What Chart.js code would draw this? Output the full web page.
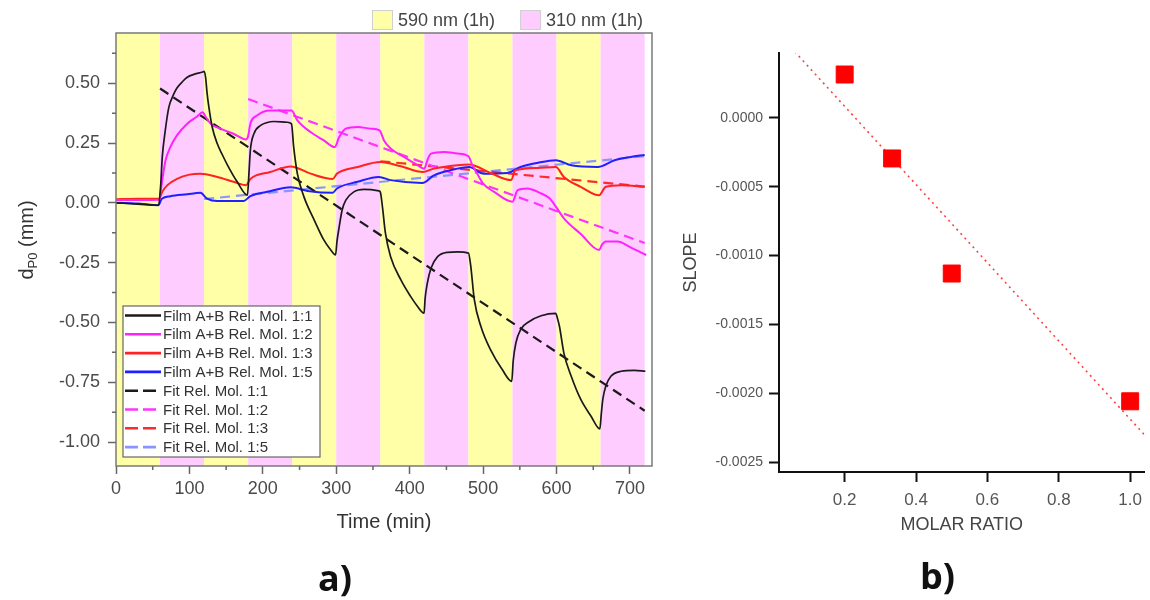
<!DOCTYPE html>
<html>
<head>
<meta charset="utf-8">
<script src="https://cdn.jsdelivr.net/npm/chart.js@4.4.1/dist/chart.umd.min.js"></script>
<style>
  html, body { margin: 0; padding: 0; background: #fff; }
  body { width: 1150px; height: 600px; position: relative; overflow: hidden; }
  #timeChart { position: absolute; left: 0; top: 0; }
  #slopeChart { position: absolute; left: 665px; top: 0; }
  .panel { position: absolute; font-family: 'Open Sans', sans-serif; font-weight: 700;
           font-size: 36px; line-height: 36px; color: #111; }
</style>
</head>
<body>
<canvas id="timeChart" width="665" height="600"></canvas>
<canvas id="slopeChart" width="485" height="600"></canvas>
<div class="panel" style="left:318px; top:560px">a)</div>
<div class="panel" style="left:920px; top:558px">b)</div>
<script>
// ---- panel a) data : time (min) vs d_P0 (mm) ----
const periodLength = 60;
const lightPeriods = ['590 nm (1h)', '310 nm (1h)', '590 nm (1h)', '310 nm (1h)',
  '590 nm (1h)', '310 nm (1h)', '590 nm (1h)', '310 nm (1h)',
  '590 nm (1h)', '310 nm (1h)', '590 nm (1h)', '310 nm (1h)'];
const lightColors = { '590 nm (1h)': '#ffffa8', '310 nm (1h)': '#ffccff' };

const timeTicks = [0, 100, 200, 300, 400, 500, 600, 700];
const timeMinorTicks = [50, 150, 250, 350, 450, 550, 650];
const dpTicks = [-1.0, -0.75, -0.5, -0.25, 0, 0.25, 0.5];
const dpMinorTicks = [-0.875, -0.625, -0.375, -0.125, 0.125, 0.375, 0.625];

// [time, d_P0]
const film11 = [[0, 0.0], [30, -0.005], [58, -0.01], [61, 0.08], [63, 0.19], [67, 0.3], [72, 0.40],
  [78, 0.45], [83, 0.48], [90, 0.505], [97, 0.525], [107, 0.538], [118, 0.547], [120, 0.55],
  [122, 0.525], [124, 0.46], [126.5, 0.40], [131, 0.317], [138, 0.247], [145, 0.2], [152, 0.157],
  [165, 0.088], [179, 0.032], [181, 0.12], [183, 0.22], [188, 0.29], [197, 0.324], [205, 0.335],
  [215, 0.34], [233, 0.337], [239, 0.33], [242, 0.233], [247, 0.122], [256, 0.025], [270, -0.072],
  [283, -0.155], [292, -0.195], [299, -0.218], [301, -0.16], [304, -0.10], [308, -0.03], [313, 0.011],
  [324, 0.046], [338, 0.056], [358, 0.05], [360, 0.045], [363, -0.02], [367, -0.128], [374, -0.225],
  [388, -0.322], [401, -0.39], [410, -0.43], [419.6, -0.461], [421, -0.40], [424, -0.336], [429, -0.273],
  [438, -0.225], [451, -0.207], [465, -0.205], [480, -0.21], [483, -0.26], [488, -0.405], [497, -0.517],
  [510, -0.614], [526, -0.697], [539, -0.746], [541, -0.66], [544.6, -0.586], [551, -0.53], [563, -0.496],
  [579, -0.472], [599, -0.462], [601, -0.48], [604, -0.517], [610, -0.628], [620, -0.725], [633, -0.822],
  [647, -0.892], [659, -0.945], [661, -0.88], [663, -0.822], [667, -0.767], [674, -0.725], [688, -0.704],
  [706, -0.70], [721, -0.704]];
const film12 = [[0, 0.012], [30, 0.012], [59, 0.013], [61, 0.05], [63, 0.095], [67.5, 0.178], [74, 0.233],
  [83, 0.282], [97, 0.331], [110, 0.36], [118, 0.379], [122, 0.36], [129, 0.331], [142, 0.31], [160, 0.289],
  [177, 0.265], [180, 0.28], [183, 0.331], [192, 0.365], [210, 0.386], [233, 0.386], [239, 0.386],
  [247, 0.345], [265, 0.296], [283, 0.261], [298, 0.233], [304, 0.275], [313, 0.31], [329, 0.317],
  [347, 0.31], [359, 0.303], [365, 0.261], [374, 0.227], [392, 0.192], [411, 0.157], [420, 0.143],
  [424, 0.178], [429, 0.206], [447, 0.213], [465, 0.206], [480, 0.195], [485, 0.16], [492, 0.122],
  [500, 0.08], [515, 0.046], [540, 0.005], [547, 0.053], [560, 0.06], [579, 0.039], [590, 0.02],
  [600, -0.02], [610, -0.065], [633, -0.13], [658, -0.197], [662, -0.175], [667, -0.162], [683, -0.162],
  [700, -0.185], [722, -0.218]];
const film13 = [[0, 0.015], [30, 0.017], [59, 0.018], [61, 0.03], [63, 0.046], [70, 0.074], [83, 0.10],
  [100, 0.118], [115, 0.122], [138, 0.108], [160, 0.088], [177, 0.074], [183, 0.10], [210, 0.129],
  [238, 0.152], [265, 0.122], [295, 0.10], [301, 0.122], [329, 0.15], [360, 0.171], [388, 0.153],
  [418, 0.129], [433, 0.143], [465, 0.157], [481, 0.16], [510, 0.125], [538, 0.095], [544, 0.136],
  [574, 0.146], [599, 0.15], [610, 0.108], [633, 0.067], [658, 0.032], [667, 0.067], [688, 0.074],
  [720, 0.067]];
const film15 = [[0, 0.0], [30, -0.003], [58, -0.01], [61, 0.01], [63, 0.018], [74, 0.028], [97, 0.036],
  [115, 0.042], [124, 0.018], [138, 0.008], [174, 0.008], [183, 0.028], [206, 0.046], [238, 0.065],
  [261, 0.05], [295, 0.042], [301, 0.06], [329, 0.088], [358, 0.108], [374, 0.095], [417, 0.083],
  [433, 0.115], [465, 0.143], [481, 0.15], [501, 0.122], [533, 0.125], [551, 0.15], [574, 0.167],
  [599, 0.178], [620, 0.157], [656, 0.15], [679, 0.178], [701, 0.192], [720, 0.2]];
const fit11 = [[60, 0.478], [720, -0.869]];
const fit12 = [[180, 0.434], [720, -0.168]];
const fit13 = [[360, 0.174], [720, 0.068]];
const fit15 = [[120, 0.016], [720, 0.195]];

// ---- panel b) data : molar ratio vs slope ----
const molarRatio = [0.2, 0.333, 0.5, 1.0];
const slopeValues = [0.000314, -0.000295, -0.00113, -0.002057];
const slopeFitX = [0.06, 1.04];
const slopeFitY = [0.00048, -0.0023];
const ratioTicks = [0.2, 0.4, 0.6, 0.8, 1.0];
const slopeTicks = [-0.0025, -0.002, -0.0015, -0.001, -0.0005, 0];

Chart.defaults.font.family = "'Liberation Sans', Arial, sans-serif";

const toXY = pts => pts.map(([x, y]) => ({ x, y }));
const solid = (label, pts, color, width) => ({
  label, data: toXY(pts), borderColor: color, backgroundColor: color, borderWidth: width,
  pointRadius: 0, cubicInterpolationMode: 'monotone', fill: false
});
const dashed = (label, pts, color) => ({
  label, data: toXY(pts), borderColor: color, backgroundColor: color, borderWidth: 2.2,
  borderDash: [10, 6], pointRadius: 0, tension: 0, fill: false
});

const bandPlugin = {
  id: 'bands',
  beforeDatasetsDraw(chart) {
    const { ctx, chartArea, scales: { x } } = chart;
    ctx.save();
    lightPeriods.forEach((name, i) => {
      const x0 = x.getPixelForValue(i * periodLength);
      const x1 = x.getPixelForValue((i + 1) * periodLength);
      ctx.fillStyle = lightColors[name];
      ctx.fillRect(x0, chartArea.top, x1 - x0, chartArea.bottom - chartArea.top);
    });
    ctx.restore();
  }
};

const framePlugin = {
  id: 'frame',
  afterDatasetsDraw(chart) {
    const { ctx, chartArea: a, scales: { x, y } } = chart;
    ctx.save();
    ctx.strokeStyle = '#7a7a7a';
    ctx.lineWidth = 1.5;
    ctx.strokeRect(a.left, a.top, a.right - a.left, a.bottom - a.top);
    // minor ticks
    ctx.strokeStyle = '#666';
    ctx.beginPath();
    timeMinorTicks.forEach(v => {
      const px = x.getPixelForValue(v);
      ctx.moveTo(px, a.bottom); ctx.lineTo(px, a.bottom + 4);
    });
    dpMinorTicks.forEach(v => {
      const py = y.getPixelForValue(v);
      ctx.moveTo(a.left - 4, py); ctx.lineTo(a.left, py);
    });
    ctx.stroke();
    ctx.restore();
  }
};

const legendsPlugin = {
  id: 'legends',
  afterDraw(chart) {
    const { ctx, chartArea: a } = chart;
    ctx.save();
    // light legend above the plot
    ctx.font = "18px 'Liberation Sans', Arial, sans-serif";
    ctx.textBaseline = 'middle';
    let cx = 372;
    [...new Set(lightPeriods)].forEach(name => {
      ctx.fillStyle = lightColors[name];
      ctx.fillRect(cx, 10, 21, 20);
      ctx.strokeStyle = '#d0d0d0';
      ctx.lineWidth = 1;
      ctx.strokeRect(cx + 0.5, 10.5, 20, 19);
      ctx.fillStyle = '#444';
      ctx.fillText(name, cx + 26, 21);
      cx += 26 + ctx.measureText(name).width + 25;
    });
    // series legend inside the plot
    const ds = chart.data.datasets;
    const bx = a.left + 7, bw = 197, bh = 151, by = a.bottom - 9 - bh;
    ctx.fillStyle = '#fff';
    ctx.fillRect(bx, by, bw, bh);
    ctx.strokeStyle = '#666';
    ctx.lineWidth = 1.2;
    ctx.strokeRect(bx, by, bw, bh);
    ctx.font = "15px 'Liberation Sans', Arial, sans-serif";
    ds.forEach((d, i) => {
      const ry = by + 9.5 + i * 18.8;
      ctx.beginPath();
      ctx.strokeStyle = d.borderColor;
      ctx.lineWidth = d.borderDash ? 2.6 : 2.6;
      ctx.setLineDash(d.borderDash ? [13, 5] : []);
      ctx.moveTo(bx + 2, ry); ctx.lineTo(bx + 38, ry);
      ctx.stroke();
      ctx.setLineDash([]);
      ctx.fillStyle = '#333';
      ctx.fillText(d.label, bx + 40, ry + 1);
    });
    // y axis title with subscript
    ctx.translate(26, 240);
    ctx.rotate(-Math.PI / 2);
    ctx.fillStyle = '#333';
    const big = "20px 'Liberation Sans', Arial, sans-serif";
    const small = "13px 'Liberation Sans', Arial, sans-serif";
    ctx.font = big; const wd = ctx.measureText('d').width; const wr = ctx.measureText(' (mm)').width;
    ctx.font = small; const ws = ctx.measureText('P0').width;
    let tx = -(wd + ws + wr) / 2;
    ctx.textBaseline = 'alphabetic';
    ctx.font = big; ctx.fillText('d', tx, 7); tx += wd;
    ctx.font = small; ctx.fillText('P0', tx, 11); tx += ws;
    ctx.font = big; ctx.fillText(' (mm)', tx, 7);
    ctx.restore();
  }
};

new Chart(document.getElementById('timeChart'), {
  type: 'line',
  data: {
    datasets: [
      solid('Film A+B Rel. Mol. 1:1', film11, '#1a1a1a', 1.7),
      solid('Film A+B Rel. Mol. 1:2', film12, '#ff22ff', 2),
      solid('Film A+B Rel. Mol. 1:3', film13, '#ff2222', 2),
      solid('Film A+B Rel. Mol. 1:5', film15, '#1f1fff', 2),
      dashed('Fit Rel. Mol. 1:1', fit11, '#1a1a1a'),
      dashed('Fit Rel. Mol. 1:2', fit12, '#ff33ff'),
      dashed('Fit Rel. Mol. 1:3', fit13, '#ff2a2a'),
      dashed('Fit Rel. Mol. 1:5', fit15, '#8a94ff')
    ]
  },
  options: {
    responsive: false,
    animation: false,
    layout: { autoPadding: false, padding: { top: 33, right: 13, bottom: 0, left: 0 } },
    plugins: { legend: { display: false }, tooltip: { enabled: false } },
    scales: {
      x: {
        type: 'linear', min: 0, max: 730,
        afterBuildTicks: s => { s.ticks = timeTicks.map(v => ({ value: v })); },
        afterFit: s => { s.height = 134; },
        border: { display: false },
        grid: { drawOnChartArea: false, tickLength: 8, tickWidth: 1.5, tickColor: '#666' },
        ticks: { padding: 4, color: '#4a4a4a', font: { size: 18 }, maxRotation: 0 },
        title: { display: true, text: 'Time (min)', color: '#333', font: { size: 20 },
                 padding: { top: 0, bottom: 66 } }
      },
      y: {
        type: 'linear', min: -1.1, max: 0.71,
        afterBuildTicks: s => { s.ticks = dpTicks.map(v => ({ value: v })); },
        afterFit: s => { s.width = 116; },
        border: { display: false },
        grid: { drawOnChartArea: false, tickLength: 8, tickWidth: 1.5, tickColor: '#666' },
        ticks: { padding: 8, color: '#4a4a4a', font: { size: 18 }, callback: v => v.toFixed(2) }
      }
    }
  },
  plugins: [bandPlugin, framePlugin, legendsPlugin]
});

new Chart(document.getElementById('slopeChart'), {
  type: 'scatter',
  data: {
    datasets: [
      { label: 'slope', data: molarRatio.map((r, i) => ({ x: r, y: slopeValues[i] })),
        pointStyle: 'rect', pointRadius: 12, backgroundColor: '#ff0000', borderColor: '#ff0000' },
      { label: 'fit', data: slopeFitX.map((r, i) => ({ x: r, y: slopeFitY[i] })), showLine: true,
        borderColor: '#ff4040', borderWidth: 1.6, borderDash: [2, 4], pointRadius: 0, fill: false }
    ]
  },
  options: {
    responsive: false,
    animation: false,
    layout: { autoPadding: false, padding: { top: 53, right: 0, bottom: 0, left: 0 } },
    plugins: { legend: { display: false }, tooltip: { enabled: false } },
    scales: {
      x: {
        type: 'linear', min: 0.016, max: 1.04,
        afterBuildTicks: s => { s.ticks = ratioTicks.map(v => ({ value: v })); },
        afterFit: s => { s.height = 128; },
        border: { display: true, color: '#111', width: 2 },
        grid: { drawOnChartArea: false, tickLength: 10, tickWidth: 2, tickColor: '#111' },
        ticks: { padding: 8, color: '#555', font: { size: 17 }, callback: v => v.toFixed(1) },
        title: { display: true, text: 'MOLAR RATIO', color: '#444', font: { size: 18 },
                 padding: { top: 0, bottom: 64 } }
      },
      y: {
        type: 'linear', min: -0.00257, max: 0.00047,
        afterBuildTicks: s => { s.ticks = slopeTicks.map(v => ({ value: v })); },
        afterFit: s => { s.width = 114; },
        border: { display: true, color: '#111', width: 2 },
        grid: { drawOnChartArea: false, tickLength: 10, tickWidth: 2, tickColor: '#111' },
        ticks: { padding: 6, color: '#555', font: { size: 14 }, callback: v => v.toFixed(4) },
        title: { display: true, text: 'SLOPE', color: '#444', font: { size: 18 },
                 padding: { top: 15, bottom: 0 } }
      }
    }
  }
});
</script>
</body>
</html>
